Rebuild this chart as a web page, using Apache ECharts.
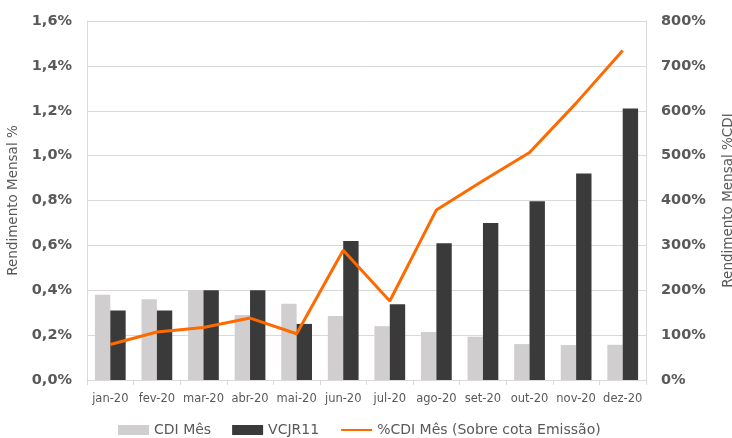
<!DOCTYPE html>
<html><head><meta charset="utf-8">
<script src="https://cdn.jsdelivr.net/npm/echarts@6/dist/echarts.min.js"></script>
<style>html,body{margin:0;padding:0;background:#fff}#c{width:732px;height:438px}</style>
</head><body><div id="c"></div>
<script>
const categories = ['jan-20','fev-20','mar-20','abr-20','mai-20','jun-20','jul-20','ago-20','set-20','out-20','nov-20','dez-20'];
const cdiMes = [0.38,0.36,0.40,0.29,0.34,0.285,0.24,0.214,0.193,0.16,0.156,0.157];
const vcjr11 = [0.31,0.31,0.40,0.40,0.25,0.62,0.338,0.61,0.70,0.797,0.92,1.21];
const pctCdi = [79,107,117,138,103,289,176,379,444,507,617,734];
const leftTicks = {min:0, max:1.6, interval:0.2};
const rightTicks = {min:0, max:800, interval:100};

const chart = echarts.init(document.getElementById('c'), null, {renderer:'canvas'});
const gray = '#595959';
const FF = 'DejaVu Sans';
chart.setOption({
  animation:false,
  textStyle:{fontFamily:FF},
  grid:{left:87, right:86, top:21, bottom:58, containLabel:false, outerBoundsMode:'none'},
  legend:{
    top:418, left:113, itemWidth:31, itemHeight:10, itemGap:21,
    textStyle:{fontSize:14, color:gray, fontFamily:FF},
    data:[{name:'CDI Mês', icon:'rect'},{name:'VCJR11', icon:'rect'},
          {name:'%CDI Mês (Sobre cota Emissão)', itemStyle:{opacity:0}}]
  },
  xAxis:{
    type:'category', data:categories,
    axisLine:{lineStyle:{color:'#d9d9d9'}},
    axisTick:{show:true, length:5, lineStyle:{color:'#d9d9d9'}},
    axisLabel:{color:gray, fontSize:11.5, margin:13, interval:0, fontFamily:FF}
  },
  yAxis:[{
    type:'value', min:leftTicks.min, max:leftTicks.max, interval:leftTicks.interval,
    name:'Rendimento Mensal %', nameLocation:'middle', nameGap:63, nameRotate:90,
    nameTextStyle:{color:gray, fontSize:13.5, fontFamily:FF},
    axisLine:{show:true, lineStyle:{color:'#d9d9d9'}},
    splitLine:{lineStyle:{color:'#d9d9d9'}},
    axisLabel:{color:gray, fontSize:14.5, fontWeight:'bold', margin:15, fontFamily:FF,
      formatter:v=>v.toFixed(1).replace('.',',')+'%'}
  },{
    type:'value', min:rightTicks.min, max:rightTicks.max, interval:rightTicks.interval,
    name:'Rendimento Mensal %CDI', nameLocation:'middle', nameGap:75, nameRotate:90,
    nameTextStyle:{color:gray, fontSize:13.5, fontFamily:FF},
    axisLine:{show:true, lineStyle:{color:'#d9d9d9'}},
    splitLine:{show:false},
    axisLabel:{color:gray, fontSize:14.5, fontWeight:'bold', margin:15, fontFamily:FF, formatter:v=>v+'%'}
  }],
  series:[
    {name:'CDI Mês', type:'bar', data:cdiMes, barWidth:'33%', barGap:'0%', itemStyle:{color:'#d0cece'}},
    {name:'VCJR11', type:'bar', data:vcjr11, barWidth:'33%', barGap:'0%', itemStyle:{color:'#3a3a3a'}},
    {name:'%CDI Mês (Sobre cota Emissão)', type:'line', yAxisIndex:1, data:pctCdi, symbol:'none',
      lineStyle:{color:'#ff6a00', width:3}, itemStyle:{color:'#ff6a00'}}
  ]
});
</script></body></html>
